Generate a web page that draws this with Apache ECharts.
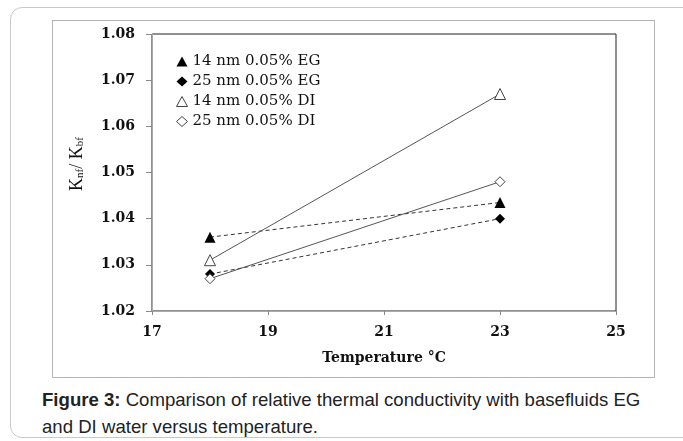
<!DOCTYPE html>
<html lang="en">
<head>
    <meta charset="UTF-8">
    <title>Figure 3</title>
    <style>
        body { margin: 0; width: 683px; height: 441px; overflow: hidden; background: #fff; }
        #panel { position: absolute; left: 10px; top: 7px; width: 700px; height: 429px;
                 border: 1px solid #c8c8c8; border-radius: 12px; }
        #main { position: absolute; left: 52px; top: 20px; width: 603px; height: 358px;
                border: 1px solid #b4b4b4; box-sizing: border-box; }
        #caption { position: absolute; left: 42px; top: 386px; width: 625px; margin: 0;
                   font-family: "Liberation Sans", Arial, sans-serif; font-size: 18.6px;
                   line-height: 27px; color: #222; }
    </style>
</head>
<body>
    <div id="panel"></div>
    <div id="main"></div>
    <p id="caption"><b>Figure 3:</b> Comparison of relative thermal conductivity with basefluids EG and DI water versus temperature.</p>
</body>
<script src="https://cdn.jsdelivr.net/npm/echarts@6/dist/echarts.min.js"></script>
<script type="text/javascript">
    // 数据
    var temps = [18, 23];
    var names = ['14 nm 0.05% EG', '25 nm 0.05% EG', '14 nm 0.05% DI', '25 nm 0.05% DI'];
    var eg14 = [1.036, 1.0435];
    var eg25 = [1.028, 1.040];
    var di14 = [1.031, 1.067];
    var di25 = [1.027, 1.048];
    var xTicks = [17, 19, 21, 23, 25];
    var yTicks = [1.02, 1.03, 1.04, 1.05, 1.06, 1.07, 1.08];

    function pairs(vals) {
        return temps.map(function (t, i) { return [t, vals[i]]; });
    }

    var serif = '"DejaVu Serif", "Liberation Serif", serif';

    var myChart = echarts.init(document.getElementById('main'));
    var option = {
        animation: false,
        grid: { left: 99, top: 13, width: 464, height: 277, show: true,
                borderColor: '#222', borderWidth: 1 },
        legend: {
            orient: 'vertical', left: 118, top: 28, itemGap: 5,
            itemWidth: 11, itemHeight: 10,
            textStyle: { fontFamily: serif, fontSize: 15, color: '#111' },
            data: [
                { name: names[0], icon: 'triangle', itemStyle: { color: '#000', borderWidth: 0 } },
                { name: names[1], icon: 'diamond', itemStyle: { color: '#000', borderWidth: 0 } },
                { name: names[2], icon: 'triangle', itemStyle: { color: '#fff', borderColor: '#444', borderWidth: 1 } },
                { name: names[3], icon: 'diamond', itemStyle: { color: '#fff', borderColor: '#444', borderWidth: 1 } }
            ]
        },
        xAxis: {
            type: 'value', min: xTicks[0], max: xTicks[xTicks.length - 1], interval: 2,
            splitLine: { show: false },
            axisLine: { lineStyle: { color: '#aaa' } },
            axisTick: { length: 4, lineStyle: { color: '#888' } },
            axisLabel: { margin: 14, fontFamily: serif, fontWeight: 'bold', fontSize: 14, color: '#111' },
            name: 'Temperature °C', nameLocation: 'middle', nameGap: 40,
            nameTextStyle: { fontFamily: serif, fontWeight: 'bold', fontSize: 14, color: '#111' }
        },
        yAxis: {
            type: 'value', min: yTicks[0], max: yTicks[yTicks.length - 1], interval: 0.01,
            splitLine: { show: false },
            axisLine: { show: true, lineStyle: { color: '#aaa' } },
            axisTick: { show: true, length: 6, lineStyle: { color: '#888' } },
            axisLabel: { margin: 17, fontFamily: serif, fontWeight: 'bold', fontSize: 14, color: '#111',
                         formatter: function (v) { return v.toFixed(2); } }
        },
        graphic: [{
            type: 'text', x: 22, y: 143, rotation: Math.PI / 2,
            style: {
                text: '{k|K}{s|nf}{k|/ K}{s|bf}',
                textAlign: 'center', textVerticalAlign: 'middle',
                rich: {
                    k: { fontFamily: '"Liberation Serif", serif', fontSize: 18, fill: '#111', verticalAlign: 'bottom', lineHeight: 22 },
                    s: { fontFamily: '"Liberation Serif", serif', fontSize: 11, fill: '#111', verticalAlign: 'bottom', lineHeight: 16 }
                }
            }
        }],
        series: [
            { name: names[0], type: 'line', data: pairs(eg14), symbol: 'triangle', symbolSize: 11,
              itemStyle: { color: '#000' }, lineStyle: { color: '#333', width: 1, type: [4, 3] } },
            { name: names[1], type: 'line', data: pairs(eg25), symbol: 'diamond', symbolSize: 10,
              itemStyle: { color: '#000' }, lineStyle: { color: '#333', width: 1, type: [4, 3] } },
            { name: names[2], type: 'line', data: pairs(di14), symbol: 'triangle', symbolSize: 11,
              itemStyle: { color: '#fff', borderColor: '#444', borderWidth: 1 },
              lineStyle: { color: '#555', width: 1 } },
            { name: names[3], type: 'line', data: pairs(di25), symbol: 'diamond', symbolSize: 10,
              itemStyle: { color: '#fff', borderColor: '#444', borderWidth: 1 },
              lineStyle: { color: '#555', width: 1 } }
        ]
    };
    myChart.setOption(option);
</script>
</html>
